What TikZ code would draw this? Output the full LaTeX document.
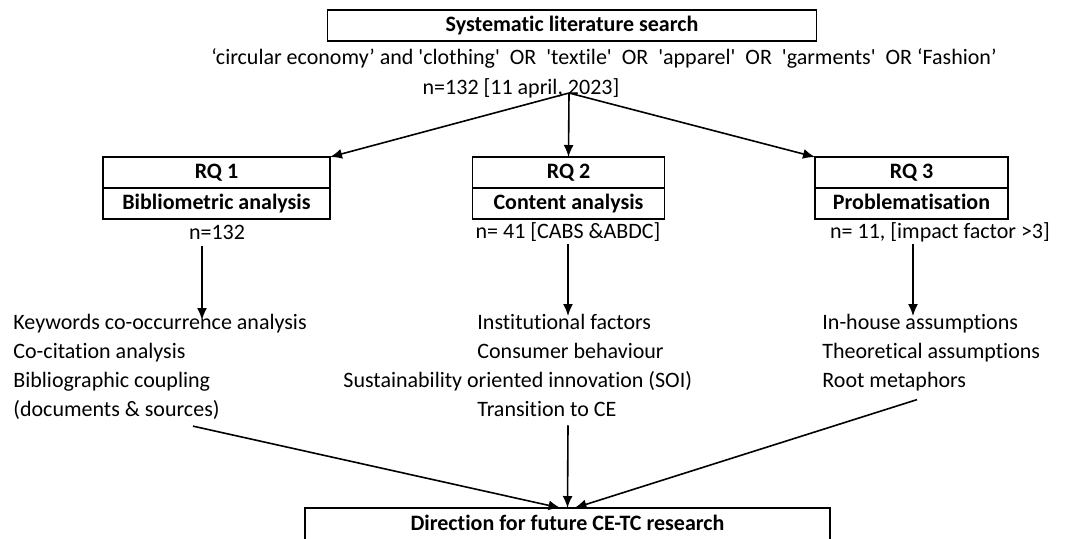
\documentclass[tikz,border=0pt]{standalone}
\usepackage{fontspec}
\setmainfont{Carlito}[Ligatures=TeX, RawFeature={-liga;-clig;-dlig;-calt;-ccmp}]
\usetikzlibrary{arrows.meta, positioning}

\begin{document}
\begin{tikzpicture}[
  x=0.5pt, y=-0.5pt,
  box/.style={rectangle, draw, line width=0.9pt, inner sep=0pt, outer sep=0pt,
              minimum height=15.5pt, text height=7.5pt, text depth=2pt,
              font=\fontsize{11}{13}\selectfont\bfseries},
  txt/.style={inner sep=0pt, font=\fontsize{11}{14.5}\selectfont},
  lst/.style={txt, align=left, anchor=north west},
  arr/.style={-{Latex[length=6pt,width=5pt]}, line width=0.8pt},
]
\useasboundingbox (0,0) rectangle (1075,538);

% --- Search ---
\node[box, minimum width=244.5pt] (search) at (572,25.5) {Systematic literature search};
\node[txt] (query) at (604,58)
  {‘circular economy’ and \textquotesingle clothing\textquotesingle\ \ OR\ \ \textquotesingle textile\textquotesingle\ \ OR\ \ \textquotesingle apparel\textquotesingle\ \ OR\ \ \textquotesingle garments\textquotesingle\ \ OR ‘Fashion’};
\node[txt] (total) at (521,88) {n=132 [11 april, 2023]};
\coordinate (split) at (569,93);

% --- Research questions ---
\node[box, minimum width=113.5pt] (rq1) at (216.5,172.5) {RQ 1};
\node[box, minimum width=113.5pt, below=0pt of rq1] (ba) {Bibliometric analysis};
\node[box, minimum width=96pt] (rq2) at (568.5,172.5) {RQ 2};
\node[box, minimum width=96pt, below=0pt of rq2] (ca) {Content analysis};
\node[box, minimum width=96.5pt] (rq3) at (911.5,172.5) {RQ 3};
\node[box, minimum width=96.5pt, below=0pt of rq3] (pr) {Problematisation};

\draw[arr] (split) -- (rq1.north east);
\draw[arr] (split) -- (rq2.north);
\draw[arr] (split) -- (rq3.north west);

\node[txt] (n1) at (217,232) {n=132};
\node[txt] (n2) at (568,232) {n= 41 [CABS \&ABDC]};
\node[txt] (n3) at (940,232) {n= 11, [impact factor >3]};

% --- Outcomes ---
\node[lst] (kw) at (13,314)
  {Keywords co-occurrence analysis\\Co-citation analysis\\Bibliographic coupling\\(documents \& sources)};
\node[lst] (inst) at (477,314)
  {Institutional factors\\Consumer behaviour\\\hspace*{-67pt}Sustainability oriented innovation (SOI)\\Transition to CE};
\node[lst] (ih) at (822,314)
  {In-house assumptions\\Theoretical assumptions\\Root metaphors};

\draw[arr] ([shift={(-15,6)}]n1.south) -- ([shift={(-15,6)}]n1.south |- kw.north);
\draw[arr] ([shift={(0,2)}]n2.south) -- ([shift={(0,2)}]n2.south |- inst.north);
\draw[arr] ([shift={(-27,2)}]n3.south) -- ([shift={(-27,2)}]n3.south |- ih.north);

% --- Direction ---
\node[box, minimum width=262.5pt, minimum height=17pt] (dir) at (567.5,525) {Direction for future CE-TC research};

\draw[arr] ([shift={(180,6)}]kw.south west) -- ([xshift=-3.5pt]dir.north);
\draw[arr] ([shift={(91,8)}]inst.south west) -- (dir.north);
\draw[arr] ([shift={(95,8)}]ih.south west) -- ([xshift=3.5pt]dir.north);
\end{tikzpicture}
\end{document}
